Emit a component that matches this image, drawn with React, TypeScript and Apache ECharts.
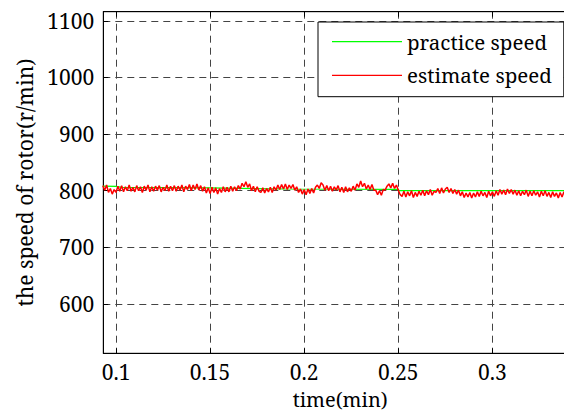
import React, { useEffect, useRef } from "react";
import * as echarts from "echarts";

const FONT = "Noto Serif, serif";

const xTicks = [0.1, 0.15, 0.2, 0.25, 0.3];
const yTicks = [600, 700, 800, 900, 1000, 1100];
const seriesNames = ["practice speed", "estimate speed"];
const xName = "time(min)";
const yName = "the speed of rotor(r/min)";

const practiceTime = [0.093, 0.1, 0.103, 0.15, 0.19, 0.25, 0.2505, 0.345];
const practiceSpeed = [808, 807.5, 806, 805, 803, 802.5, 800, 800];

const estimateTime = [
  0.093, 0.094, 0.095, 0.096, 0.097, 0.098, 0.099,
  0.1, 0.101, 0.102, 0.103, 0.104, 0.105, 0.106, 0.107, 0.108, 0.109,
  0.11, 0.111, 0.112, 0.113, 0.114, 0.115, 0.116, 0.117, 0.118, 0.119,
  0.12, 0.121, 0.122, 0.123, 0.124, 0.125, 0.126, 0.127, 0.128, 0.129,
  0.13, 0.131, 0.132, 0.133, 0.134, 0.135, 0.136, 0.137, 0.138, 0.139,
  0.14, 0.141, 0.142, 0.143, 0.144, 0.145, 0.146, 0.147, 0.148, 0.149,
  0.15, 0.151, 0.152, 0.153, 0.154, 0.155, 0.156, 0.157, 0.158, 0.159,
  0.16, 0.161, 0.162, 0.163, 0.164, 0.165, 0.166, 0.167, 0.168, 0.169,
  0.17, 0.171, 0.172, 0.173, 0.174, 0.175, 0.176, 0.177, 0.178, 0.179,
  0.18, 0.181, 0.182, 0.183, 0.184, 0.185, 0.186, 0.187, 0.188, 0.189,
  0.19, 0.191, 0.192, 0.193, 0.194, 0.195, 0.196, 0.197, 0.198, 0.199,
  0.2, 0.201, 0.202, 0.203, 0.204, 0.205, 0.206, 0.207, 0.208, 0.209,
  0.21, 0.211, 0.212, 0.213, 0.214, 0.215, 0.216, 0.217, 0.218, 0.219,
  0.22, 0.221, 0.222, 0.223, 0.224, 0.225, 0.226, 0.227, 0.228, 0.229,
  0.23, 0.231, 0.232, 0.233, 0.234, 0.235, 0.236, 0.237, 0.238, 0.239,
  0.24, 0.241, 0.242, 0.243, 0.244, 0.245, 0.246, 0.247, 0.248, 0.249,
  0.25, 0.251, 0.252, 0.253, 0.254, 0.255, 0.256, 0.257, 0.258, 0.259,
  0.26, 0.261, 0.262, 0.263, 0.264, 0.265, 0.266, 0.267, 0.268, 0.269,
  0.27, 0.271, 0.272, 0.273, 0.274, 0.275, 0.276, 0.277, 0.278, 0.279,
  0.28, 0.281, 0.282, 0.283, 0.284, 0.285, 0.286, 0.287, 0.288, 0.289,
  0.29, 0.291, 0.292, 0.293, 0.294, 0.295, 0.296, 0.297, 0.298, 0.299,
  0.3, 0.301, 0.302, 0.303, 0.304, 0.305, 0.306, 0.307, 0.308, 0.309,
  0.31, 0.311, 0.312, 0.313, 0.314, 0.315, 0.316, 0.317, 0.318, 0.319,
  0.32, 0.321, 0.322, 0.323, 0.324, 0.325, 0.326, 0.327, 0.328, 0.329,
  0.33, 0.331, 0.332, 0.333, 0.334, 0.335, 0.336, 0.337, 0.338, 0.339, 0.34,
];
const estimateSpeed = [
  809, 801, 810, 797, 804, 794, 802,
  797, 808, 799, 809, 798, 807, 800, 810, 799, 806,
  798, 809, 800, 807, 797, 808, 801, 810, 798, 807,
  799, 808, 801, 809, 798, 806, 800, 810, 799, 808,
  800, 809, 799, 808, 801, 810, 798, 808, 802, 811,
  800, 810, 802, 812, 801, 809, 799, 807, 796, 805,
  795, 806, 797, 805, 794, 804, 797, 807, 798, 806,
  798, 808, 799, 807, 800, 809, 803, 813, 807, 816,
  806, 812, 800, 808, 798, 807, 799, 797, 805, 796,
  804, 798, 806, 797, 807, 801, 810, 802, 811, 803,
  812, 802, 810, 804, 811, 801, 807, 797, 803, 794,
  802, 793, 803, 795, 804, 796, 806, 810, 804, 814,
  810, 801, 809, 800, 808, 799, 807, 801, 809, 798,
  806, 797, 807, 798, 805, 799, 808, 801, 812, 806,
  817, 807, 813, 803, 810, 802, 811, 801, 801, 793,
  800, 792, 802, 801, 808, 812, 805, 813, 804, 810,
  801, 793, 790, 799, 789, 798, 791, 800, 788, 797,
  790, 799, 792, 801, 791, 800, 793, 802, 792, 799,
  797, 804, 795, 805, 796, 803, 806, 797, 804, 795,
  802, 794, 801, 791, 798, 788, 796, 789, 797, 787,
  796, 789, 798, 790, 799, 791, 797, 788, 799, 791,
  798, 790, 800, 792, 802, 794, 801, 793, 803, 795,
  802, 794, 801, 792, 800, 791, 799, 793, 801, 790,
  799, 791, 800, 792, 798, 789, 799, 791, 800, 790,
  797, 788, 798, 790, 796, 787, 797, 789, 798, 788, 796,
];

const X_MIN = 0.09325;
const X_MAX = 0.345;
const Y_MIN = 513;
const Y_MAX = 1116;

export default function App() {
  const ref = useRef<HTMLDivElement>(null);
  useEffect(() => {
    if (!ref.current) return;
    const chart = echarts.init(ref.current, undefined, { renderer: "svg" });
    const practiceData = practiceTime.map((t, i) => [t, practiceSpeed[i]]);
    const estimateData = estimateTime.map((t, i) => [t, estimateSpeed[i]]);
    const gridLine = { show: true, lineStyle: { color: "#444", type: [7, 5], width: 1 } };
    const tickStyle = { color: "#000", width: 1 };
    chart.setOption({
      animation: false,
      backgroundColor: "#fff",
      textStyle: { fontFamily: FONT },
      grid: {
        left: 103.3,
        top: 11.7,
        right: -13.1,
        bottom: 62.7,
        show: true,
        borderColor: "#000",
        borderWidth: 1,
        containLabel: false,
        outerBoundsMode: "none",
      },
      legend: {
        show: true,
        data: seriesNames.map((n) => ({ name: n, icon: "rect" })),
        orient: "vertical",
        left: 318,
        top: 22,
        padding: [7.7, 12, 9.4, 14],
        itemGap: 9.6,
        itemWidth: 70,
        itemHeight: 1.2,
        backgroundColor: "#fff",
        borderColor: "#000",
        borderWidth: 1,
        textStyle: { fontFamily: FONT, fontSize: 20.5, color: "#000", lineHeight: 24 },
      },
      xAxis: [
        {
          type: "value",
          min: X_MIN,
          max: X_MAX,
          position: "bottom",
          name: xName,
          nameLocation: "middle",
          nameGap: 36,
          nameTextStyle: { fontFamily: FONT, fontSize: 20, color: "#000" },
          axisLine: { show: true, onZero: false, lineStyle: tickStyle },
          axisTick: { show: true, inside: true, length: 5, customValues: xTicks, lineStyle: tickStyle },
          axisLabel: {
            show: true,
            customValues: xTicks,
            formatter: (v: number) => String(v),
            fontFamily: FONT,
            fontSize: 21,
            color: "#000",
            margin: 8,
          },
          splitLine: gridLine,
        },
        {
          type: "value",
          min: X_MIN,
          max: X_MAX,
          position: "top",
          axisLine: { show: true, onZero: false, lineStyle: tickStyle },
          axisTick: { show: true, inside: true, length: 5, customValues: xTicks, lineStyle: tickStyle },
          axisLabel: { show: false },
          splitLine: { show: false },
        },
      ],
      yAxis: [
        {
          type: "value",
          min: Y_MIN,
          max: Y_MAX,
          position: "left",
          name: yName,
          nameLocation: "middle",
          nameGap: 68,
          nameTextStyle: { fontFamily: FONT, fontSize: 21, color: "#000" },
          axisLine: { show: true, onZero: false, lineStyle: tickStyle },
          axisTick: { show: true, inside: true, length: 5, customValues: yTicks, lineStyle: tickStyle },
          axisLabel: {
            show: true,
            customValues: yTicks,
            formatter: (v: number) => String(v),
            fontFamily: FONT,
            fontSize: 21,
            color: "#000",
            margin: 9,
          },
          splitLine: gridLine,
        },
      ],
      series: [
        {
          name: seriesNames[0],
          type: "line",
          data: practiceData,
          symbol: "none",
          showSymbol: false,
          lineStyle: { color: "#00ff00", width: 1.2 },
          itemStyle: { color: "#00ff00" },
          z: 2,
        },
        {
          name: seriesNames[1],
          type: "line",
          data: estimateData,
          symbol: "none",
          showSymbol: false,
          lineStyle: { color: "#ff0000", width: 1.5 },
          itemStyle: { color: "#ff0000" },
          z: 3,
        },
      ],
    });
    return () => chart.dispose();
  }, []);
  return (
    <div
      ref={ref}
      style={{ position: "absolute", left: 0, top: 0, width: 564, height: 416 }}
    />
  );
}
